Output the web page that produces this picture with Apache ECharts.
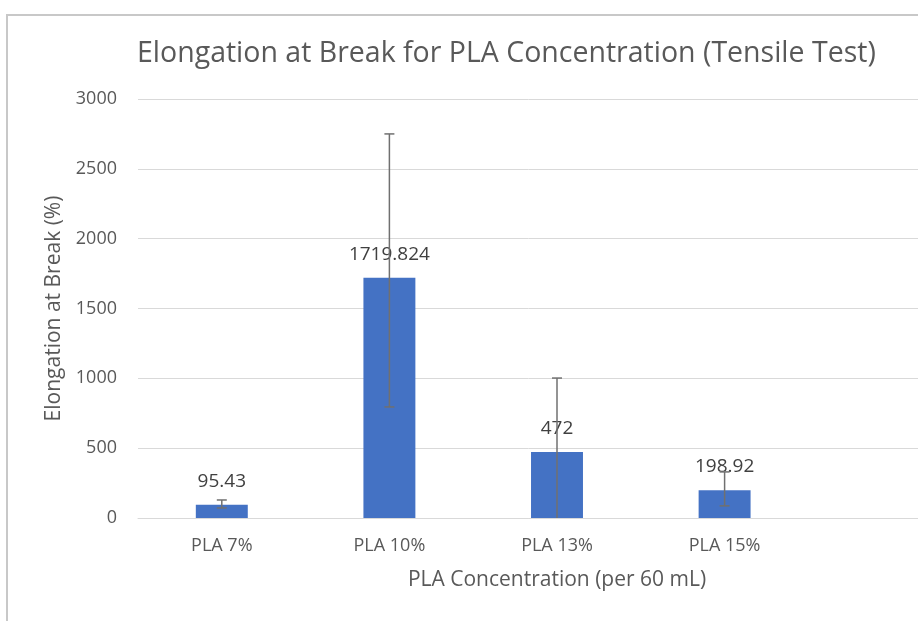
<!DOCTYPE html>
<html>
<head>
<meta charset="utf-8">
<script src="https://cdn.jsdelivr.net/npm/echarts@6/dist/echarts.min.js"></script>
<style>
  html, body { margin: 0; padding: 0; background: #fff; }
  #chart { width: 918px; height: 621px; }
</style>
</head>
<body>
<div id="chart"></div>
<script>
// data (fifth slot is the empty one at the right)
const categories = ['PLA 7%', 'PLA 10%', 'PLA 13%', 'PLA 15%', ''];
const elongation = [95.43, 1719.824, 472, 198.92, null];
const labelText = ['95.43', '1719.824', '472', '198.92', ''];
const errLow = [72, 795, -58, 87];
const errHigh = [129, 2750, 1002, 330];
const yTicks = [0, 500, 1000, 1500, 2000, 2500, 3000];

const textColor = '#595959';
const font = 'Open Sans';

const chart = echarts.init(document.getElementById('chart'));

const errData = errLow.map((lo, i) => [i, lo, errHigh[i]]);

const option = {
  backgroundColor: '#fff',
  animation: false,
  title: {
    text: 'Elongation at Break for PLA Concentration (Tensile Test)',
    left: 132,
    top: 34,
    textStyle: {
      color: textColor,
      fontFamily: font,
      fontSize: 28.5,
      fontWeight: 'normal'
    }
  },
  graphic: [
    {
      type: 'polyline',
      shape: { points: [[7, 621], [7, 15], [918, 15]] },
      style: { stroke: '#c8c8c8', lineWidth: 2, fill: null },
      silent: true
    }
  ],
  grid: {
    left: 138,
    top: 99,
    width: 838,
    height: 419,
    outerBoundsMode: 'none'
  },
  xAxis: {
    type: 'category',
    data: categories,
    name: 'PLA Concentration (per 60 mL)',
    nameLocation: 'middle',
    nameGap: 52,
    nameTextStyle: { color: textColor, fontFamily: font, fontSize: 21 },
    axisLine: { lineStyle: { color: '#d9d9d9', width: 1 } },
    axisTick: { show: false },
    axisLabel: { color: textColor, fontFamily: font, fontSize: 18, margin: 19 }
  },
  yAxis: {
    type: 'value',
    min: yTicks[0],
    max: yTicks[yTicks.length - 1],
    interval: 500,
    name: 'Elongation at Break (%)',
    nameLocation: 'middle',
    nameGap: 73,
    nameTextStyle: { color: textColor, fontFamily: font, fontSize: 21 },
    axisLine: { show: false },
    axisTick: { show: false },
    axisLabel: {
      color: textColor,
      fontFamily: font,
      fontSize: 18,
      margin: 21,
      formatter: v => String(v)
    },
    splitLine: { lineStyle: { color: '#d9d9d9', width: 1 } }
  },
  series: [
    {
      type: 'bar',
      data: elongation,
      barWidth: '31%',
      itemStyle: { color: '#4472C4' },
      label: {
        show: true,
        position: 'top',
        distance: 14,
        color: '#404040',
        fontFamily: font,
        fontSize: 19,
        textBorderWidth: 0,
        formatter: p => labelText[p.dataIndex]
      },
      z: 2
    },
    {
      // error bars drawn on their own layer so they cross the value labels
      type: 'custom',
      data: errData,
      zlevel: 1,
      z: 10,
      clip: true,
      renderItem: (params, api) => {
        const x = api.coord([api.value(0), 0])[0];
        const lo = api.coord([api.value(0), api.value(1)])[1];
        const hi = api.coord([api.value(0), api.value(2)])[1];
        const w = 5;
        const style = { stroke: '#707070', lineWidth: 1.5 };
        const children = [
          { type: 'line', shape: { x1: x, y1: hi, x2: x, y2: lo }, style },
          { type: 'line', shape: { x1: x - w, y1: hi, x2: x + w, y2: hi }, style }
        ];
        if (api.value(1) >= 0) {
          children.push({ type: 'line', shape: { x1: x - w, y1: lo, x2: x + w, y2: lo }, style });
        }
        return { type: 'group', children };
      }
    }
  ]
};

chart.setOption(option);
</script>
</body>
</html>
